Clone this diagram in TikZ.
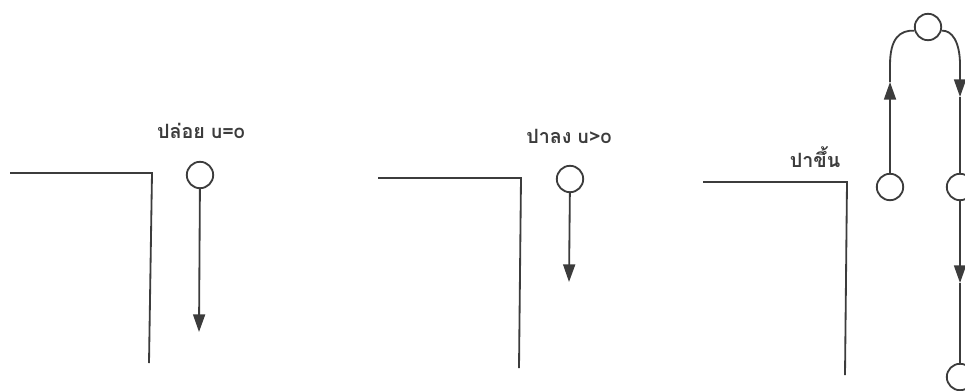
\documentclass[tikz,border=0pt]{standalone}
\usepackage{fontspec}
\newfontfamily\thaifont[Script=Thai]{Loma}
\usepackage{tikz}
\usetikzlibrary{arrows.meta}
\definecolor{ink}{RGB}{60, 60, 60}

\begin{document}
\begin{tikzpicture}[x=0.025cm, y=-0.025cm, line width=1.3pt, draw=ink,
    ball/.style={draw, circle, minimum size=0.66cm, inner sep=0pt},
    arr/.style={-{Triangle[length=12.5pt, width=8.5pt]}},
    lbl/.style={anchor=base, text=ink, font=\thaifont\bfseries\fontsize{14}{16}\selectfont}]
    \useasboundingbox (0,0) rectangle (965,390);

    % release, u=0
    \coordinate (edgeA) at (10,173);
    \coordinate (cornerA) at (152,173);
    \coordinate (footA) at (149,363);
    \draw (edgeA) -- (cornerA) -- (footA);
    \node[ball] (ballA) at (200,175) {};
    \node[lbl] (labelA) at (201,138) {ปล่อย u=o};
    \coordinate (tipA) at (199,332);
    \draw[arr] (ballA) -- (tipA);

    % thrown down, u>0
    \coordinate (edgeB) at (378,178);
    \coordinate (cornerB) at (521,178);
    \coordinate (footB) at (519,368);
    \draw (edgeB) -- (cornerB) -- (footB);
    \node[ball] (ballB) at (570,179) {};
    \node[lbl] (labelB) at (569,143) {ปาลง u>o};
    \coordinate (tipB) at (569,282);
    \draw[arr] (ballB) -- (tipB);

    % thrown up
    \coordinate (edgeC) at (703,182);
    \coordinate (cornerC) at (847,182);
    \coordinate (footC) at (845,375);
    \draw (edgeC) -- (cornerC) -- (footC);
    \node[lbl] (labelC) at (815,167) {ปาขึ้น};
    \node[ball] (ballL) at (890,187) {};
    \node[ball] (ballT) at (928,27) {};
    \node[ball] (ballR) at (960,187) {};
    \node[ball] (ballD) at (960,377) {};
    \coordinate (tipL) at (890,82);
    \coordinate (bendL) at (890,65);
    \coordinate (bendR) at (960,65);
    \coordinate (tipR) at (960,97);
    \coordinate (tipD) at (960,283);
    \draw[arr] (ballL) -- (tipL);
    \draw (tipL) -- (bendL) .. controls (890,38) and (900,30) .. (ballT.195);
    \draw (ballT.-15) .. controls (952,30) and (960,42) .. (bendR);
    \draw[arr] (bendR) -- (tipR);
    \draw (tipR) -- (ballR);
    \draw[arr] (ballR) -- (tipD);
    \draw (tipD) -- (ballD);
\end{tikzpicture}
\end{document}
